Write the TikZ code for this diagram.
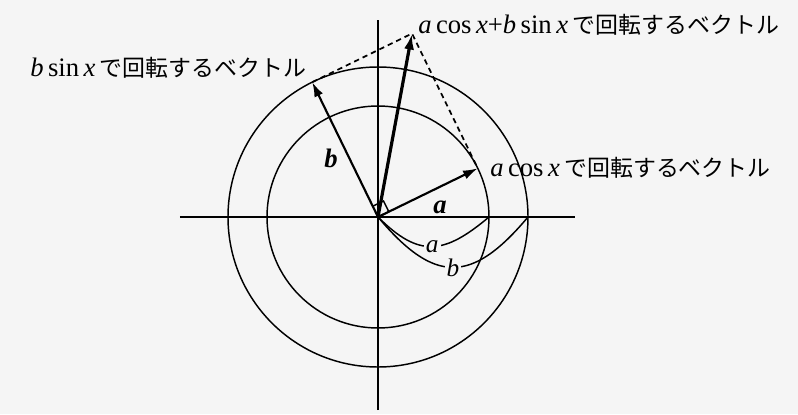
\documentclass[tikz,border=0pt]{standalone}
\usepackage{fontspec}
\setmainfont{Liberation Serif}
\newfontfamily\jpfont{Noto Sans CJK JP}
\usetikzlibrary{arrows.meta,calc}
\newcommand{\VecTip}{Latex[length=11,width=7]}
\newcommand{\RotText}{\,{\jpfont\fontsize{17.2}{18}\selectfont で回転するベクトル}}
\tikzset{thin line/.style={line width=1.1pt},vec/.style={line width=1.6pt,-{\VecTip}},sumvec/.style={line width=2.4pt,-{Latex[length=12,width=7.5]}}}
\tikzset{lbl/.style={font=\fontsize{20}{22}\selectfont,inner sep=0pt,anchor=base west},dimlbl/.style={font=\fontsize{19}{20}\selectfont\itshape,fill=black!4,inner sep=1.5pt}}

\begin{document}
\begin{tikzpicture}[x=0.75pt,y=0.75pt]
\fill[black!4](-378,-197)rectangle(420,217);\useasboundingbox(-378,-197)rectangle(420,217);
\coordinate(O)at(0,0);\coordinate(A)at(26:111);\coordinate(B)at(116:150);\coordinate(S)at($(A)+(B)$);
\coordinate(xl)at(-198,0);\coordinate(xr)at(197,0);\coordinate(yb)at(0,-193);\coordinate(yt)at(0,197);
\coordinate(ax)at(111,0);\coordinate(bx)at(150,0);
\begin{scope}[thin line]
\draw(xl)--(xr);\draw(yb)--(yt);
\draw(O)circle(111);\draw(O)circle(150);
\draw(O)--++(26:12)--++(116:12)--++(206:12);
\draw(O)to[out=-45,in=-140,looseness=1.35]node[dimlbl]{a}(ax);
\draw(O)to[out=-50,in=-130,looseness=1.5]node[dimlbl]{b}(bx);
\draw[line width=1.3pt,dash pattern=on 4pt off 3pt](B)--(S)--(A);
\end{scope}
\draw[vec](O)--(A);\draw[vec](O)--(B);\draw[sumvec](O)--(S);
\node(la)at(62,10){\fontsize{20}{22}\selectfont\bfseries\itshape a};
\node(lb)at(-47,59){\fontsize{20}{22}\selectfont\bfseries\itshape b};
\node(tS)[lbl]at(40,183){\textit{a}\,cos\,\textit{x}+\textit{b}\,sin\,\textit{x}\RotText};
\node(tB)[lbl]at(-348,140){\textit{b}\,sin\,\textit{x}\RotText};
\node(tA)[lbl]at(112,41){\textit{a}\,cos\,\textit{x}\RotText};
\end{tikzpicture}
\end{document}
